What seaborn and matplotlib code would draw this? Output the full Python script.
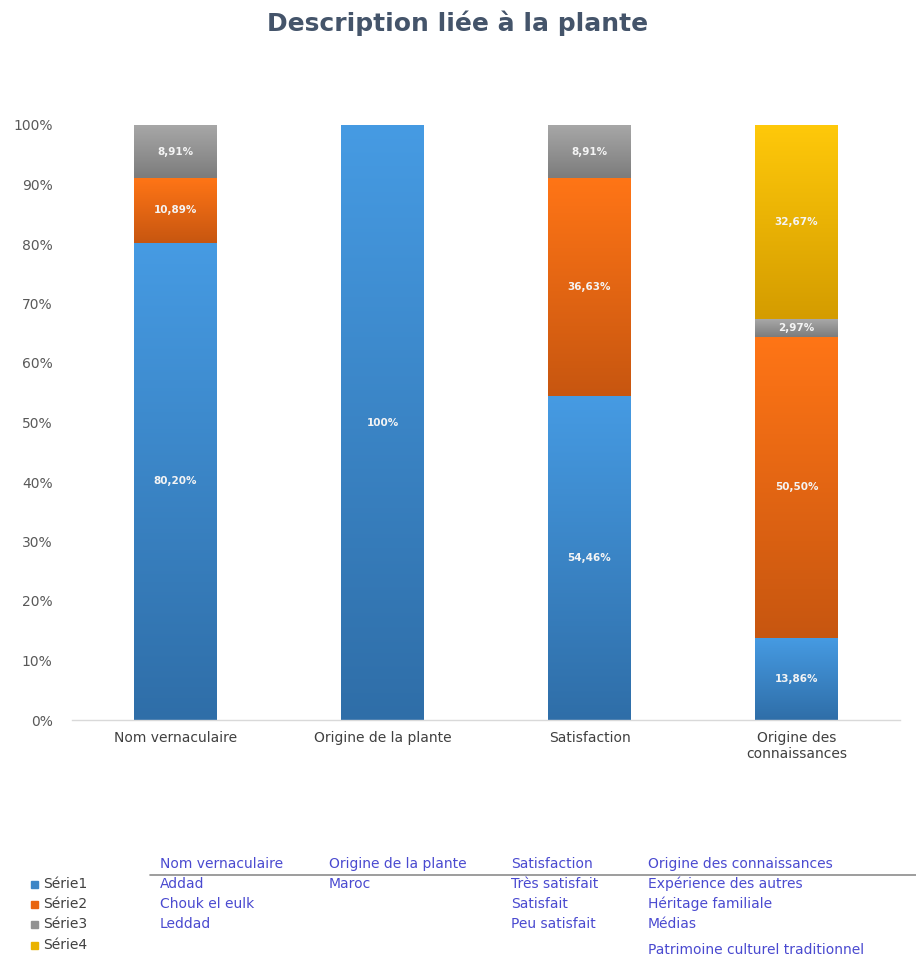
import numpy as np
import pandas as pd
import matplotlib
matplotlib.use("Agg")
import matplotlib.pyplot as plt
import matplotlib.colors as mcolors
import seaborn as sns

# ---------------- data ----------------
categories = ["Nom vernaculaire", "Origine de la plante", "Satisfaction", "Origine des\nconnaissances"]
series_names = ["Série1", "Série2", "Série3", "Série4"]
serie1 = [80.20, 100.0, 54.46, 13.86]
serie2 = [10.89, 0.0, 36.63, 50.50]
serie3 = [8.91, 0.0, 8.91, 2.97]
serie4 = [0.0, 0.0, 0.0, 32.67]
labels1 = ["80,20%", "100%", "54,46%", "13,86%"]
labels2 = ["10,89%", "", "36,63%", "50,50%"]
labels3 = ["8,91%", "", "8,91%", "2,97%"]
labels4 = ["", "", "", "32,67%"]
yticks = [0, 10, 20, 30, 40, 50, 60, 70, 80, 90, 100]
ytick_labels = ["0%", "10%", "20%", "30%", "40%", "50%", "60%", "70%", "80%", "90%", "100%"]

table_headers = ["Nom vernaculaire", "Origine de la plante", "Satisfaction", "Origine des connaissances"]
table_col1 = ["Addad", "Chouk el eulk", "Leddad", ""]
table_col2 = ["Maroc", "", "", ""]
table_col3 = ["Très satisfait", "Satisfait", "Peu satisfait", ""]
table_col4 = ["Expérience des autres", "Héritage familiale", "Médias", "Patrimoine culturel traditionnel"]

# ---------------- style ----------------
sns.set_theme(style="white")
plt.rcParams["font.family"] = ["DejaVu Sans"]

W, H = 916, 958
fig = plt.figure(figsize=(W / 100, H / 100), dpi=100)
ax = fig.add_axes([72 / W, 1 - 720 / H, (900 - 72) / W, (720 - 125) / H])

top_colors = ["#469be3", "#ff7516", "#a8a8a8", "#ffc90a"]
bot_colors = ["#2f6ea8", "#c75610", "#7c7c7c", "#d49c00"]
base_colors = ["#3d86c6", "#e8650f", "#929292", "#eab300"]

series = [serie1, serie2, serie3, serie4]
label_sets = [labels1, labels2, labels3, labels4]
bottom = np.zeros(len(categories))
seg_info = []
for i, (name, vals) in enumerate(zip(series_names, series)):
    df = pd.DataFrame({"cat": categories, "val": vals})
    n_before = len(ax.patches)
    sns.barplot(data=df, x="cat", y="val", order=categories, color=base_colors[i],
                width=0.4, bottom=bottom.copy(), ax=ax, saturation=1, errorbar=None,
                linewidth=0)
    new = ax.patches[n_before:]
    for j, p in enumerate(new):
        seg_info.append((p, i, label_sets[i][j]))
    bottom = bottom + np.array(vals)

ax.set_xlim(-0.5, len(categories) - 0.5)
ax.set_ylim(0, 100)

# gradient fill for each segment
for p, i, lab in seg_info:
    h = p.get_height()
    if h <= 0:
        continue
    x0 = p.get_x(); w = p.get_width(); y0 = p.get_y()
    cmap = mcolors.LinearSegmentedColormap.from_list("g", [bot_colors[i], top_colors[i]])
    grad = np.linspace(0, 1, 256).reshape(-1, 1)
    ax.imshow(grad, cmap=cmap, origin="lower", aspect="auto",
              extent=[x0, x0 + w, y0, y0 + h], zorder=2, interpolation="bicubic")
    if lab:
        ax.text(x0 + w / 2, y0 + h / 2, lab, ha="center", va="center", color="#f4f4f4",
                fontsize=7.5, fontweight="bold", zorder=3)

ax.set_xlim(-0.5, len(categories) - 0.5)
ax.set_ylim(0, 100)

ax.set_yticks(yticks)
ax.set_yticklabels(ytick_labels, color="#595959", fontsize=10)
ax.set_xticks(range(len(categories)))
ax.set_xticklabels(categories, color="#404040", fontsize=10)
ax.tick_params(axis="both", length=0, pad=8)
ax.tick_params(axis="y", pad=14)
ax.set_xlabel("")
ax.set_ylabel("")
for s in ["top", "right", "left"]:
    ax.spines[s].set_visible(False)
ax.spines["bottom"].set_color("#d9d9d9")
ax.spines["bottom"].set_linewidth(1)

fig.text(0.5, 1 - 23 / H, "Description liée à la plante", ha="center", va="center",
         fontsize=18, fontweight="bold", color="#44546a")

# ---------------- data table ----------------
tcol = "#4a4ad0"
def fy(py):
    return 1 - py / H

col_x = [160, 329, 511, 648]
for x, t in zip(col_x, table_headers):
    fig.text(x / W, fy(864), t, ha="left", va="center", fontsize=10, color=tcol)
fig.add_artist(plt.Line2D([150 / W, 1.0], [fy(875), fy(875)], color="#8c8c8c", lw=1.2))

row_y = [884, 904, 924, 950]
for x, col in zip(col_x, [table_col1, table_col2, table_col3, table_col4]):
    for y, t in zip(row_y, col):
        if t:
            fig.text(x / W, fy(y), t, ha="left", va="center", fontsize=10, color=tcol)

leg_y = [884, 904, 924, 945]
for y, name, c in zip(leg_y, series_names, base_colors):
    fig.add_artist(plt.Rectangle((31 / W, fy(y) - 3.5 / H), 7 / W, 7 / H, color=c,
                                 transform=fig.transFigure))
    fig.text(43 / W, fy(y), name, ha="left", va="center", fontsize=10, color="#404040")

fig.savefig("out.png", dpi=100, facecolor="white")
